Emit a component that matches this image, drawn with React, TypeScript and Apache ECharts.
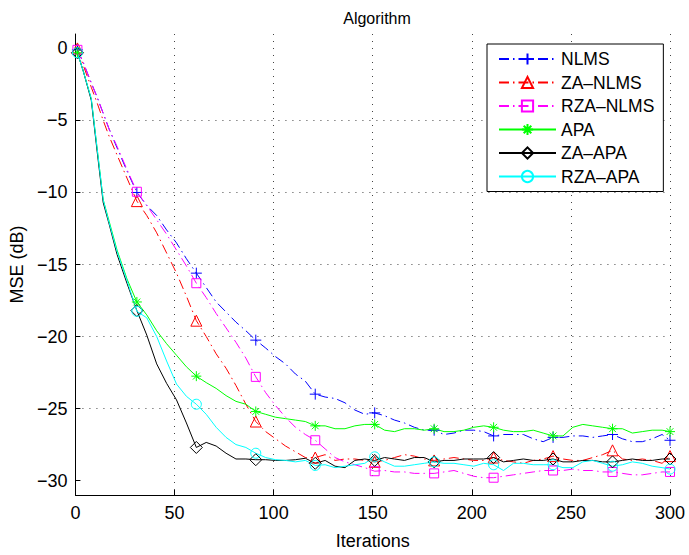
import React, { useEffect, useRef } from "react";
import * as echarts from "echarts";

const iterations = [
  1, 4, 8, 11, 14, 17, 21, 26, 31,
  36, 41, 46, 51, 56, 61,
  66, 71, 76, 81, 86, 91,
  96, 101, 106, 111, 116, 121,
  126, 131, 136, 141, 146, 151,
  156, 161, 166, 171, 176, 181,
  186, 191, 196, 201, 206, 211,
  216, 221, 226, 231, 236, 241,
  246, 251, 256, 261, 266, 271,
  276, 281, 286, 291, 296, 300,
];

const markerIterations = [1, 31, 61, 91, 121, 151, 181, 211, 241, 271, 300];

const xTicks = [0, 50, 100, 150, 200, 250, 300];
const yTicks = [0, -5, -10, -15, -20, -25, -30];

const nlms = [
  -0.1, -1.0, -2.4, -3.4, -4.5, -5.6, -6.9, -8.5, -10.0,
  -10.9, -11.6, -12.6, -13.5, -14.6, -15.6,
  -16.6, -17.6, -18.3, -19.0, -19.6, -20.25,
  -20.8, -21.4, -21.9, -22.6, -23.1, -24.0,
  -24.2, -24.3, -24.6, -25.1, -25.4, -25.3,
  -25.5, -25.8, -26.0, -26.3, -26.5, -26.5,
  -26.8, -26.7, -26.5, -26.5, -26.6, -26.9,
  -26.8, -26.8, -26.8, -27.1, -27.3, -27.0,
  -27.0, -26.9, -26.9, -27.0, -26.9, -26.8,
  -27.1, -27.3, -27.3, -27.1, -26.8, -27.2,
];

const zaNlms = [
  0.0, -1.2, -2.7, -3.8, -5.0, -6.1, -7.4, -9.0, -10.6,
  -11.6, -12.8, -14.2, -15.6, -17.2, -18.9,
  -20.0, -21.2, -22.2, -23.4, -24.7, -25.9,
  -26.6, -27.1, -27.6, -28.0, -28.4, -28.4,
  -28.2, -28.6, -28.5, -28.5, -28.6, -28.7,
  -28.6, -28.4, -28.2, -28.3, -28.5, -28.6,
  -28.5, -28.4, -28.5, -28.6, -28.6, -28.4,
  -28.6, -28.7, -28.8, -28.6, -28.5, -28.3,
  -28.5, -28.6, -28.6, -28.4, -28.2, -27.9,
  -28.5, -28.6, -28.5, -28.6, -28.8, -28.3,
];

const rzaNlms = [
  -0.1, -1.0, -2.4, -3.4, -4.5, -5.6, -6.8, -8.4, -9.95,
  -10.9, -11.9, -12.9, -14.0, -15.1, -16.3,
  -17.3, -18.4, -19.4, -20.4, -21.5, -22.8,
  -23.9, -24.8, -25.6, -26.3, -26.8, -27.2,
  -27.8, -28.4, -28.7, -28.9, -29.1, -29.35,
  -29.3, -29.4, -29.4, -29.5, -29.5, -29.5,
  -29.4, -29.3, -29.5, -29.7, -29.8, -29.8,
  -29.7, -29.6, -29.5, -29.4, -29.3, -29.3,
  -29.3, -29.2, -29.3, -29.3, -29.4, -29.4,
  -29.5, -29.6, -29.6, -29.5, -29.4, -29.4,
];

const apa = [
  -0.3, -1.6, -3.5, -7.0, -10.5, -12.0, -14.0, -16.0, -17.6,
  -18.5, -19.6, -20.5, -21.3, -22.1, -22.75,
  -23.2, -23.6, -24.1, -24.5, -24.7, -25.2,
  -25.4, -25.6, -25.7, -25.8, -25.9, -26.2,
  -26.2, -26.4, -26.4, -26.2, -26.1, -26.1,
  -26.5, -26.6, -26.4, -26.4, -26.5, -26.4,
  -26.6, -26.6, -26.5, -26.3, -26.2, -26.3,
  -26.5, -26.6, -26.6, -26.5, -26.7, -26.9,
  -26.9, -26.3, -26.1, -26.2, -26.3, -26.4,
  -26.4, -26.7, -26.6, -26.5, -26.5, -26.6,
];

const zaApa = [
  -0.3, -1.6, -3.6, -7.2, -10.7, -12.2, -14.3, -16.3, -18.2,
  -19.9, -21.9, -23.25, -24.4, -26.0, -27.7,
  -27.35, -27.6, -28.1, -28.5, -28.5, -28.55,
  -28.55, -28.6, -28.6, -28.55, -28.45, -28.8,
  -28.6, -29.0, -29.1, -28.6, -28.5, -28.6,
  -28.4, -28.5, -28.6, -28.4, -28.4, -28.7,
  -28.6, -28.6, -28.5, -28.5, -28.5, -28.4,
  -28.7, -28.6, -28.5, -28.6, -28.6, -28.5,
  -28.7, -28.7, -28.6, -28.6, -28.7, -28.7,
  -28.6, -28.5, -28.6, -28.6, -28.5, -28.5,
];

const rzaApa = [
  -0.3, -1.6, -3.5, -7.0, -10.5, -12.1, -14.1, -16.1, -18.25,
  -18.7, -20.0, -21.7, -23.3, -24.15, -24.7,
  -25.4, -26.3, -27.0, -27.5, -27.7, -28.1,
  -28.4, -28.55, -28.6, -28.7, -28.6, -28.95,
  -28.9, -29.1, -29.0, -28.9, -28.8, -28.35,
  -28.7, -29.0, -29.0, -28.9, -28.8, -28.7,
  -28.8, -28.8, -28.9, -29.0, -28.8, -28.9,
  -29.3, -28.8, -28.8, -28.9, -28.9, -28.9,
  -29.1, -29.1, -28.7, -28.6, -28.8, -29.0,
  -28.9, -28.7, -28.8, -29.0, -29.1, -29.2,
];

const FONT = "'Liberation Sans', Arial, Helvetica, sans-serif";
const DASH_DOT = [10, 4, 1.5, 4];
const PLUS = "path://M5,0L5,10M0,5L10,5";
const STAR = "path://M5,0L5,10M0,5L10,5M1.6,1.6L8.4,8.4M8.4,1.6L1.6,8.4";

const seriesDefs = [
  { name: "NLMS", values: nlms, color: "#0000ff", dash: DASH_DOT, symbol: PLUS, size: 11 },
  { name: "ZA\u2013NLMS", values: zaNlms, color: "#ff0000", dash: DASH_DOT, symbol: "triangle", size: 11 },
  { name: "RZA\u2013NLMS", values: rzaNlms, color: "#ff00ff", dash: DASH_DOT, symbol: "rect", size: 9 },
  { name: "APA", values: apa, color: "#00ff00", dash: "solid", symbol: STAR, size: 10 },
  { name: "ZA\u2013APA", values: zaApa, color: "#000000", dash: "solid", symbol: "diamond", size: 12 },
  { name: "RZA\u2013APA", values: rzaApa, color: "#00ffff", dash: "solid", symbol: "circle", size: 10 },
];

const minus = (v: any) => String(v).replace("-", "\u2212");

export default function App() {
  const ref = useRef<HTMLDivElement>(null);
  useEffect(() => {
    if (!ref.current) return;
    const chart = echarts.init(ref.current, undefined, { renderer: "svg" });
    const markerSet = new Set(markerIterations);
    const series = seriesDefs.map((d) => ({
      name: d.name,
      type: "line",
      showSymbol: true,
      showAllSymbol: true,
      symbol: d.symbol,
      symbolSize: d.size,
      color: d.color,
      lineStyle: { color: d.color, width: 1, type: d.dash as any },
      itemStyle: { color: "rgba(0,0,0,0)", borderColor: d.color, borderWidth: 1 },
      emphasis: { disabled: true },
      data: iterations.map((x, i) =>
        markerSet.has(x)
          ? { value: [x, d.values[i]] }
          : { value: [x, d.values[i]], symbol: "none" }
      ),
      z: 3,
    }));
    chart.setOption({
      animation: false,
      title: {
        text: "Algorithm",
        left: 372,
        top: 5,
        textAlign: "center",
        textStyle: { fontFamily: FONT, fontSize: 16, fontWeight: "normal", color: "#000" },
      },
      grid: { left: 75, right: 19, top: 34, bottom: 51, show: false },
      legend: {
        orient: "vertical",
        left: 487,
        top: 44,
        padding: [6, 9, 6, 11],
        itemGap: 5.5,
        itemWidth: 57,
        itemHeight: 14,
        selectedMode: false,
        backgroundColor: "#fff",
        borderColor: "#000",
        borderWidth: 1,
        textStyle: { fontFamily: FONT, fontSize: 17.5, lineHeight: 17, color: "#000" },
        data: seriesDefs.map((d) => d.name),
      },
      xAxis: {
        type: "value",
        min: xTicks[0],
        max: xTicks[xTicks.length - 1],
        interval: 50,
        name: "Iterations",
        nameLocation: "middle",
        nameGap: 37,
        nameTextStyle: { fontFamily: FONT, fontSize: 18, color: "#000" },
        axisLine: { show: true, onZero: false, lineStyle: { color: "#000", width: 1 } },
        axisTick: { show: true, inside: true, length: 5, lineStyle: { color: "#000" } },
        axisLabel: { fontFamily: FONT, fontSize: 18, color: "#000", margin: 9 },
        splitLine: {
          show: true,
          showMinLine: false,
          lineStyle: { color: "#444", width: 1, type: [1, 6] },
        },
      },
      yAxis: {
        type: "value",
        min: -31,
        max: 1,
        name: "MSE (dB)",
        nameLocation: "middle",
        nameGap: 48,
        nameTextStyle: { fontFamily: FONT, fontSize: 18, color: "#000" },
        axisLine: { show: true, onZero: false, lineStyle: { color: "#000", width: 1 } },
        axisTick: { show: true, inside: true, length: 5, lineStyle: { color: "#000" }, customValues: yTicks },
        axisLabel: {
          fontFamily: FONT,
          fontSize: 18,
          color: "#000",
          margin: 8,
          showMinLabel: false,
          showMaxLabel: false,
          formatter: (v: number) => minus(v),
        },
        splitLine: {
          show: true,
          showMinLine: false,
          showMaxLine: false,
          lineStyle: { color: "#444", width: 1, type: [1, 6] },
        },
      },
      series,
    } as any);
    return () => chart.dispose();
  }, []);
  return (
    <div
      ref={ref}
      style={{ position: "absolute", left: 0, top: 0, width: 689, height: 555, background: "#fff" }}
    />
  );
}
